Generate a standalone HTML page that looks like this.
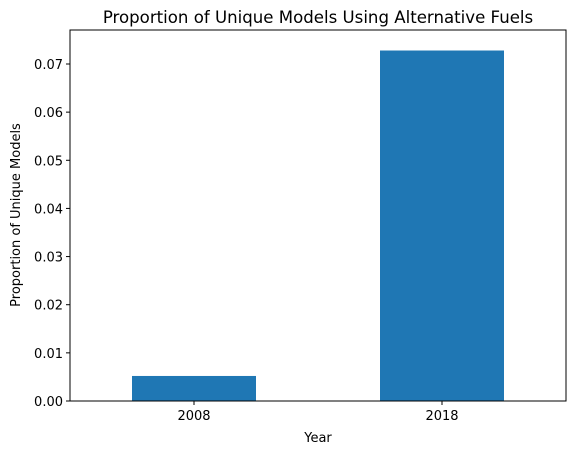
<!DOCTYPE html>
<html><head><meta charset="utf-8"><style>
body{margin:0;background:#fff;}
svg text{font-family:"DejaVu Sans","Liberation Sans",sans-serif;fill:#000;}
</style></head><body>
<svg id="chart" width="576" height="455">
<text x="318" y="23" font-size="16.6" text-anchor="middle">Proportion of Unique Models Using Alternative Fuels</text>
<g id="plot"></g>
<rect x="70" y="30" width="496" height="371" fill="none" stroke="#000" stroke-width="1" shape-rendering="crispEdges"/>
<text x="318" y="442" font-size="13" text-anchor="middle">Year</text>
<text transform="translate(20,215) rotate(-90)" font-size="13" text-anchor="middle">Proportion of Unique Models</text>
</svg>
<script>
const categories = ["2008", "2018"];
const values = [0.0052, 0.0728];
const yTicks = [0, 0.01, 0.02, 0.03, 0.04, 0.05, 0.06, 0.07];
const yTickLabels = ["0.00","0.01","0.02","0.03","0.04","0.05","0.06","0.07"];

const L=70,R=566,T=30,B=401,yMax=0.07706;
const ns="http://www.w3.org/2000/svg";
const g=document.getElementById('plot');
function y(v){return B-(v/yMax)*(B-T);}
function x(i){return L+(i+0.5)*(R-L)/categories.length;}
const bw=(R-L)/categories.length*0.5;
function mk(t,a){const e=document.createElementNS(ns,t);for(const k in a)e.setAttribute(k,a[k]);g.appendChild(e);return e;}
values.forEach((v,i)=>{
  const r=mk('rect',{x:x(i)-bw/2,y:y(v),width:bw,height:B-y(v),fill:'#1f77b4'});
  
  
  const tk=mk('line',{x1:x(i),x2:x(i),y1:B,y2:B+4,stroke:'#000'});
  
  
  const t=mk('text',{x:x(i),y:B+19,'font-size':13,'text-anchor':'middle'});
  t.textContent=categories[i];
  
  
});
yTicks.forEach((v,i)=>{
  const tk=mk('line',{x1:L-4,x2:L,y1:y(v),y2:y(v),stroke:'#000'});
  
  
  const t=mk('text',{x:L-7,y:y(v)+5,'font-size':13,'text-anchor':'end'});
  t.textContent=yTickLabels[i];
  
  
});
</script>
</body></html>
